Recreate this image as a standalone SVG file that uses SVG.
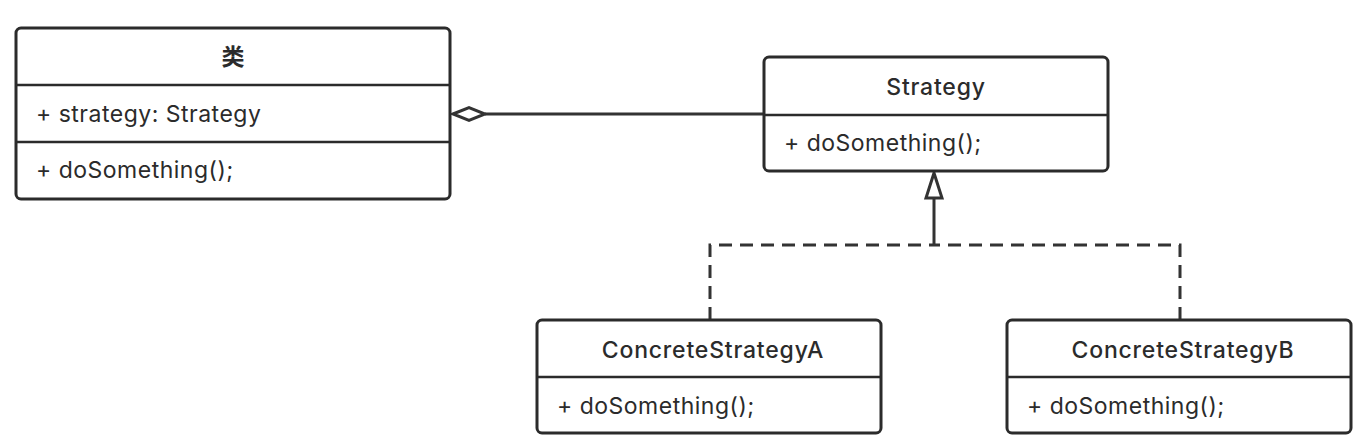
<svg xmlns="http://www.w3.org/2000/svg" width="1370" height="448" viewBox="0 0 1370 448">
<style>
.box{fill:#fff;stroke:#2b2b2b;stroke-width:3}
.div{stroke:#2b2b2b;stroke-width:2.5}
.t{font-family:Inter,"Noto Sans","Noto Sans CJK SC",sans-serif;font-size:23px;fill:#2b2b2b;letter-spacing:0.5px}
.title{font-weight:500;text-anchor:middle;letter-spacing:0.8px}
.cn{font-family:"Noto Sans CJK SC",sans-serif;font-size:23px;fill:#2b2b2b;font-weight:600;text-anchor:middle}
.line{fill:none;stroke:#333;stroke-width:3}
.dash{fill:none;stroke:#333;stroke-width:3;stroke-dasharray:13 8}
</style>
<rect width="1370" height="448" fill="#fff"/>
<g id="connectors">
<line class="line" x1="485" y1="114" x2="764" y2="114"/>
<polygon points="453,114 469,107.5 485,114 469,120.5" fill="#fff" stroke="#333" stroke-width="3"/>
<polyline class="dash" points="710,320 710,245 934,245"/>
<polyline class="dash" points="1180,320 1180,245 934,245"/>
<line class="line" x1="934" y1="245" x2="934" y2="198"/>
<polygon points="934,173 926,198 942,198" fill="#fff" stroke="#333" stroke-width="3" stroke-linejoin="miter"/>
</g>
<g id="class-lei">
<rect class="box" x="16" y="28" width="434" height="171" rx="5"/>
<line class="div" x1="16" y1="85" x2="450" y2="85"/>
<line class="div" x1="16" y1="142" x2="450" y2="142"/>
<text class="cn" x="233" y="65">类</text>
<text class="t" x="36" y="122">+ strategy: Strategy</text>
<text class="t" x="36" y="178">+ doSomething();</text>
</g>
<g id="strategy">
<rect class="box" x="764" y="57" width="344" height="114" rx="5"/>
<line class="div" x1="764" y1="115" x2="1108" y2="115"/>
<text class="t title" x="936" y="95">Strategy</text>
<text class="t" x="784" y="151">+ doSomething();</text>
</g>
<g id="concreteA">
<rect class="box" x="537" y="320" width="344" height="113" rx="5"/>
<line class="div" x1="537" y1="377" x2="881" y2="377"/>
<text class="t title" x="713" y="358">ConcreteStrategyA</text>
<text class="t" x="557" y="414">+ doSomething();</text>
</g>
<g id="concreteB">
<rect class="box" x="1007" y="320" width="344" height="113" rx="5"/>
<line class="div" x1="1007" y1="377" x2="1351" y2="377"/>
<text class="t title" x="1183" y="358">ConcreteStrategyB</text>
<text class="t" x="1027" y="414">+ doSomething();</text>
</g>
</svg>
